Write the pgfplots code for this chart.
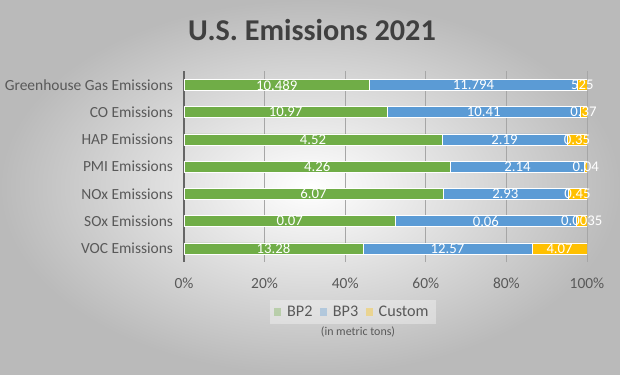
\documentclass[border=0pt]{standalone}
\usepackage{fontspec}
\setmainfont{Carlito}
\usepackage{pgfplots}
\usepackage{pgfplotstable}
\pgfplotsset{compat=1.18}
\definecolor{cg}{HTML}{70AD47}
\definecolor{cb}{HTML}{5B9BD5}
\definecolor{cy}{HTML}{FFC000}
\definecolor{txt}{HTML}{595959}
\definecolor{ttl}{HTML}{404040}

\pgfplotstableread{
y BP2 BP3 Cu LCu
0 13.28 12.57 4.07 4.07
1 0.07 0.06 0.0035 0.0035
2 6.07 2.93 0.45 0.45
3 4.26 2.14 0.04 0.04
4 4.52 2.19 0.35 0.35
5 10.97 10.41 0.37 0.37
6 10.489 11.794 0.525 525
}\data

\begin{document}
\begin{tikzpicture}
\shade[inner color=white, outer color=black!27] (0,0) rectangle (15.5cm,-9.35cm);
\node[font=\fontsize{21.5}{24}\selectfont\bfseries, text=ttl] at (7.8cm,-0.75cm) {U.S. Emissions 2021};
\begin{axis}[
  at={(4.6cm,-6.55cm)}, anchor=south west,
  scale only axis, width=10.075cm, height=4.765cm,
  xmin=0, xmax=100, ymin=-0.5, ymax=6.5,
  xbar stacked, bar width=0.275cm,
  axis y line*=left, axis x line*=bottom,
  x axis line style={draw=none},
  y axis line style={draw=black!60, line width=0.8pt},
  major tick length=0,
  xtick={0,20,40,60,80,100},
  xticklabel={\pgfmathprintnumber{\tick}\%},
  /pgf/number format/assume math mode=true,
  ytick={0,1,2,3,4,5,6},
  yticklabels={VOC Emissions,SOx Emissions,NOx Emissions,PMI Emissions,HAP Emissions,CO Emissions,Greenhouse Gas Emissions},
  xmajorgrids, grid style={black!35, line width=0.5pt},
  tick label style={text=txt, font=\fontsize{11}{13}\selectfont},
  xticklabel style={yshift=-0.28cm},
  yticklabel style={xshift=-0.15cm},
  legend columns=3,
  legend style={at={(axis description cs:0.419,-0.262)}, anchor=center,
    draw=none, fill=white, fill opacity=0.35, text opacity=1,
    font=\fontsize{11.5}{13}\selectfont, text=txt,
    /tikz/every even column/.style={column sep=0.12cm}},
  legend image code/.code={\fill[#1,draw=none] (0cm,-0.09cm) rectangle (0.18cm,0.09cm);},
]
\addplot[fill=cg, draw=white, line width=0.4pt] table[x expr={100*\thisrow{BP2}/(\thisrow{BP2}+\thisrow{BP3}+\thisrow{Cu})}, y=y]{\data};
\addplot[fill=cb, draw=white, line width=0.4pt] table[x expr={100*\thisrow{BP3}/(\thisrow{BP2}+\thisrow{BP3}+\thisrow{Cu})}, y=y]{\data};
\addplot[fill=cy, draw=white, line width=0.4pt] table[x expr={100*\thisrow{Cu}/(\thisrow{BP2}+\thisrow{BP3}+\thisrow{Cu})}, y=y]{\data};
\legend{\hspace{2pt}BP2,\hspace{2pt}BP3,\hspace{2pt}Custom}
\end{axis}
\begin{axis}[
  at={(4.6cm,-6.55cm)}, anchor=south west,
  scale only axis, width=10.075cm, height=4.765cm,
  xmin=0, xmax=100, ymin=-0.5, ymax=6.5,
  hide axis,
  nodes near coords,
  point meta=explicit symbolic,
  every node near coord/.append style={anchor=center, text=white, font=\fontsize{10.5}{12}\selectfont, inner sep=0pt},
]
\addplot[draw=none, mark=none] table[x expr={50*\thisrow{BP2}/(\thisrow{BP2}+\thisrow{BP3}+\thisrow{Cu})}, y=y, meta=BP2]{\data};
\addplot[draw=none, mark=none] table[x expr={100*(\thisrow{BP2}+0.5*\thisrow{BP3})/(\thisrow{BP2}+\thisrow{BP3}+\thisrow{Cu})}, y=y, meta=BP3]{\data};
\addplot[draw=none, mark=none] table[x expr={100*(\thisrow{BP2}+\thisrow{BP3}+0.5*\thisrow{Cu})/(\thisrow{BP2}+\thisrow{BP3}+\thisrow{Cu})}, y=y, meta=LCu]{\data};
\end{axis}
\node[font=\fontsize{8.5}{10}\selectfont, text=txt] at (8.95cm,-8.3cm) {(in metric tons)};
\pgfresetboundingbox
\useasboundingbox (0,0) rectangle (15.5cm,-9.35cm);
\end{tikzpicture}
\end{document}
